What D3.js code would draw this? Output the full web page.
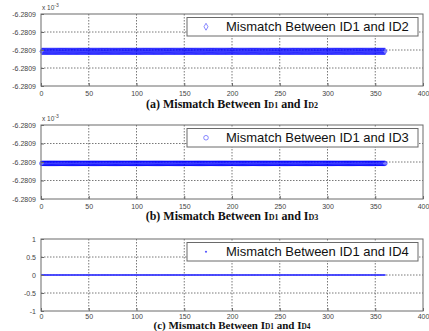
<!DOCTYPE html>
<html>
<head>
<meta charset="utf-8">
<script src="https://cdn.jsdelivr.net/npm/d3@7"></script>
<style>
html,body{margin:0;padding:0;background:#fff;}
svg{display:block;}
</style>
</head>
<body>
<svg id="chart" width="429" height="331"></svg>
<script>
// ---------- data ----------
const sampleIndex = d3.range(1, 361);                 // sample number along x
const mismatch12 = sampleIndex.map(() => -6.28090000000015); // x1e-3, flat
const mismatch13 = sampleIndex.map(() => -6.28090000000015); // x1e-3, flat
const mismatch14 = sampleIndex.map(() => 0);                 // exactly zero
const xTicks = [0, 50, 100, 150, 200, 250, 300, 350, 400];
const yTicksAB = [-6.280899999996, -6.280899999998, -6.2809, -6.280900000002, -6.280900000004];
const yTickLabelsAB = ["-6.2809", "-6.2809", "-6.2809", "-6.2809", "-6.2809"];
const yTicksC = [1, 0.5, 0, -0.5, -1];
const yTickLabelsC = ["1", "0.5", "0", "-0.5", "-1"];
const legendLabels = ["Mismatch Between ID1 and ID2", "Mismatch Between ID1 and ID3", "Mismatch Between ID1 and ID4"];
const titleParts = [
  ["(a) Mismatch Between I", "D1", " and I", "D2"],
  ["(b) Mismatch Between I", "D1", " and I", "D3"],
  ["(c) Mismatch Between I", "D1", " and I", "D4"]
];

const panels = [
  {top: 14, bottom: 86, titleY: 108, titleSize: 12, pad: 5, values: mismatch12, yTicks: yTicksAB, yLabels: yTickLabelsAB, domain: [-6.280900000004, -6.280899999996], marker: "diamond", exp: true},
  {top: 125, bottom: 199, titleY: 220, titleSize: 12, pad: 5, values: mismatch13, yTicks: yTicksAB, yLabels: yTickLabelsAB, domain: [-6.280900000004, -6.280899999996], marker: "circle", exp: true},
  {top: 239, bottom: 311, titleY: 329, titleSize: 11, pad: 3, values: mismatch14, yTicks: yTicksC, yLabels: yTickLabelsC, domain: [-1, 1], marker: "point", exp: false}
];

const svg = d3.select("#chart");
const left = 41, right = 423;
const blue = "#0000ff";
const axisColor = "#6a6a6a";
const gridColor = "#555";

const x = d3.scaleLinear().domain([0, 400]).range([left, right]);

panels.forEach((p, i) => {
  const y = d3.scaleLinear().domain(p.domain).range([p.bottom, p.top]);
  const g = svg.append("g");

  // grid
  g.selectAll("line.gx").data(xTicks.slice(1, -1)).enter().append("line")
    .attr("x1", d => x(d)).attr("x2", d => x(d))
    .attr("y1", p.top).attr("y2", p.bottom)
    .attr("stroke", gridColor).attr("stroke-width", 0.8).attr("stroke-dasharray", "1.5,1.5");
  g.selectAll("line.gy").data(p.yTicks.slice(1, -1)).enter().append("line")
    .attr("x1", left).attr("x2", right)
    .attr("y1", d => y(d)).attr("y2", d => y(d))
    .attr("stroke", gridColor).attr("stroke-width", 0.8).attr("stroke-dasharray", "1.5,1.5");

  // data
  const pts = g.append("g");
  if (p.marker === "diamond") {
    const sym = d3.symbol().type(d3.symbolDiamond).size(14);
    pts.selectAll("path").data(p.values).enter().append("path")
      .attr("d", sym)
      .attr("transform", (d, k) => `translate(${x(sampleIndex[k])},${y(d)})`)
      .attr("fill", "none").attr("stroke", blue).attr("stroke-width", 0.6);
  } else if (p.marker === "circle") {
    pts.selectAll("circle").data(p.values).enter().append("circle")
      .attr("cx", (d, k) => x(sampleIndex[k])).attr("cy", d => y(d)).attr("r", 2.3)
      .attr("fill", "none").attr("stroke", blue).attr("stroke-width", 0.6);
  } else {
    pts.selectAll("circle").data(p.values).enter().append("circle")
      .attr("cx", (d, k) => x(sampleIndex[k])).attr("cy", d => y(d)).attr("r", 1.1)
      .attr("fill", "#3a3aff").attr("opacity", 0.8);
  }

  // box
  g.append("rect").attr("x", left).attr("y", p.top)
    .attr("width", right - left).attr("height", p.bottom - p.top)
    .attr("fill", "none").attr("stroke", axisColor).attr("stroke-width", 1);

  // axes (ticks inside, labels outside)
  const xAxis = d3.axisBottom(x).tickValues(xTicks).tickSize(-3).tickPadding(p.pad).tickFormat(d3.format("d"));
  const ax = g.append("g").attr("transform", `translate(0,${p.bottom})`).call(xAxis);
  const yAxis = d3.axisLeft(y).tickValues(p.yTicks).tickSize(-3).tickPadding(5)
    .tickFormat((d, k) => p.yLabels[k]);
  const ay = g.append("g").attr("transform", `translate(${left},0)`).call(yAxis);
  [ax, ay].forEach(a => {
    a.select(".domain").remove();
    a.selectAll(".tick line").attr("stroke", axisColor);
    a.selectAll(".tick text").attr("fill", "#444").attr("font-family", "Liberation Sans, Arial, sans-serif").attr("font-size", 7);
  });

  // exponent
  if (p.exp) {
    const t = g.append("text").attr("x", left + 1).attr("y", p.top - 4)
      .attr("font-family", "Liberation Sans, Arial, sans-serif").attr("font-size", 6.5).attr("fill", "#444");
    t.append("tspan").text("x 10");
    t.append("tspan").attr("dy", -3).attr("font-size", 5).text("-3");
  }

  // legend
  const lx = 187, lw = 231, ly = p.top + 3.5, lh = 18.5;
  const lg = g.append("g");
  lg.append("rect").attr("x", lx).attr("y", ly).attr("width", lw).attr("height", lh)
    .attr("fill", "#fff").attr("stroke", axisColor).attr("stroke-width", 1);
  const my = ly + lh / 2;
  if (p.marker === "diamond") {
    lg.append("path").attr("d", d3.symbol().type(d3.symbolDiamond).size(14))
      .attr("transform", `translate(206,${my})`).attr("fill", "none").attr("stroke", "#5555ff").attr("stroke-width", 0.7);
  } else if (p.marker === "circle") {
    lg.append("circle").attr("cx", 206).attr("cy", my).attr("r", 2.3)
      .attr("fill", "none").attr("stroke", "#5555ff").attr("stroke-width", 0.7);
  } else {
    lg.append("circle").attr("cx", 206).attr("cy", my).attr("r", 1.1).attr("fill", "#5555ff");
  }
  lg.append("text").attr("x", 226).attr("y", my + 4.7)
    .attr("font-family", "Liberation Sans, Arial, sans-serif").attr("font-size", 13).attr("fill", "#111")
    .text(legendLabels[i]);

  // title
  const ts = p.titleSize;
  const tt = g.append("text").attr("x", (left + right) / 2).attr("y", p.titleY)
    .attr("text-anchor", "middle").attr("font-family", "Liberation Serif, Times New Roman, serif")
    .attr("font-weight", "bold").attr("font-size", ts).attr("fill", "#111");
  titleParts[i].forEach((s, k) => {
    tt.append("tspan").attr("font-size", k % 2 === 1 ? ts * 2 / 3 : ts).text(s);
  });
});
</script>
</body>
</html>
